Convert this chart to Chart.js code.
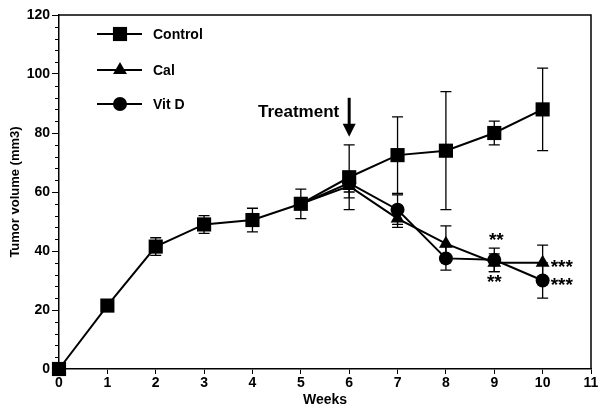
<!DOCTYPE html>
<html>
<head>
<meta charset="utf-8">
<title>Tumor volume</title>
<script src="https://cdn.jsdelivr.net/npm/chart.js"></script>
<style>
    html, body { margin: 0; padding: 0; background: #fff; }
    #wrap { width: 601px; height: 417px; }
</style>
</head>
<body>
<div id="wrap"><canvas id="tumor-chart" width="601" height="417"></canvas></div>
<script>
// values
var weeks = [0, 1, 2, 3, 4, 5, 6, 7, 8, 9, 10];
var controlValues = [0, 21.5, 41.5, 49, 50.5, 56, 65, 72.5, 74, 80, 88];
var controlErrors = [0, 0, 3, 3, 4, 5, 11, 13, 20, 4, 14];
var calValues = [null, null, null, null, null, 56, 62, 51, 42.5, 36, 36];
var calErrors = [0, 0, 0, 0, 0, 0, 4, 3, 6, 3, 6];
var vitDValues = [null, null, null, null, null, 56, 63, 54, 37.5, 37, 30];
var vitDErrors = [0, 0, 0, 0, 0, 0, 3, 5, 4, 4, 6];
var seriesNames = ['Control', 'Cal', 'Vit D'];
var yTicks = { min: 0, max: 120, step: 20, minorStep: 4 };
var xTicks = { min: 0, max: 11, step: 1 };

// significance marks: series index, week, text
var marks = [
    { series: 2, week: 9, text: '**', side: 'above' },
    { series: 1, week: 9, text: '**', side: 'below' },
    { series: 1, week: 10, text: '***', side: 'right' },
    { series: 2, week: 10, text: '***', side: 'right' }
];
var treatmentWeek = 6;

var FONT = '"Liberation Sans", Arial, Helvetica, sans-serif';

function toPoints( values ) {
    var pts = [];
    for ( var i = 0; i < weeks.length; i++ ) {
        pts.push( { x: weeks[i], y: values[i] } );
    }
    return pts;
}

var seriesErrors = [controlErrors, calErrors, vitDErrors];
var seriesValues = [controlValues, calValues, vitDValues];

var styles = [
    { pointStyle: 'rect', radius: 10 },
    { pointStyle: 'triangle', radius: 8 },
    { pointStyle: 'circle', radius: 7 }
];

function makeDataset( i ) {
    return {
        label: seriesNames[i],
        data: toPoints( seriesValues[i] ),
        borderColor: '#000',
        backgroundColor: '#000',
        borderWidth: 2,
        pointStyle: styles[i].pointStyle,
        pointRadius: function( ctx ) {
            // the treated groups share week 5 with control
            if ( i > 0 && ctx.dataIndex < 6 ) return 0;
            return styles[i].radius;
        },
        pointBorderWidth: 0,
        pointHoverRadius: styles[i].radius,
        tension: 0,
        clip: false
    };
}

// error bars, drawn under the markers
var errorBars = {
    id: 'errorBars',
    beforeDatasetsDraw: function( chart ) {
        var ctx = chart.ctx;
        var xs = chart.scales.x, ys = chart.scales.y;
        ctx.save();
        ctx.strokeStyle = '#000';
        ctx.lineWidth = 1.3;
        for ( var s = 0; s < seriesValues.length; s++ ) {
            for ( var i = 0; i < weeks.length; i++ ) {
                var v = seriesValues[s][i], e = seriesErrors[s][i];
                if ( v === null || !e ) continue;
                var px = xs.getPixelForValue( weeks[i] );
                var top = ys.getPixelForValue( v + e );
                var bot = ys.getPixelForValue( v - e );
                ctx.beginPath();
                ctx.moveTo( px, top ); ctx.lineTo( px, bot );
                ctx.moveTo( px - 5.5, top ); ctx.lineTo( px + 5.5, top );
                ctx.moveTo( px - 5.5, bot ); ctx.lineTo( px + 5.5, bot );
                ctx.stroke();
            }
        }
        ctx.restore();
    }
};

// box, minor ticks, legend, treatment arrow, asterisks
var extras = {
    id: 'extras',
    afterDraw: function( chart ) {
        var ctx = chart.ctx;
        var area = chart.chartArea;
        var xs = chart.scales.x, ys = chart.scales.y;
        ctx.save();

        // top and right frame
        ctx.strokeStyle = '#000';
        ctx.lineWidth = 1.5;
        ctx.beginPath();
        ctx.moveTo( area.left, area.top );
        ctx.lineTo( area.right, area.top );
        ctx.lineTo( area.right, area.bottom );
        ctx.stroke();

        // minor y ticks
        ctx.lineWidth = 1;
        ctx.beginPath();
        for ( var v = yTicks.min; v <= yTicks.max; v += yTicks.minorStep ) {
            if ( v % yTicks.step === 0 ) continue;
            var py = Math.round( ys.getPixelForValue( v ) ) + 0.5;
            ctx.moveTo( area.left - 4, py );
            ctx.lineTo( area.left, py );
        }
        ctx.stroke();

        // legend
        ctx.fillStyle = '#000';
        ctx.font = 'bold 14px ' + FONT;
        ctx.textBaseline = 'middle';
        ctx.textAlign = 'left';
        var rows = [area.top + 19, area.top + 55, area.top + 89];
        for ( var i = 0; i < seriesNames.length; i++ ) {
            ctx.lineWidth = 2;
            ctx.beginPath();
            ctx.moveTo( area.left + 38, rows[i] );
            ctx.lineTo( area.left + 83, rows[i] );
            ctx.stroke();
            Chart.helpers.drawPoint( ctx, {
                pointStyle: styles[i].pointStyle,
                radius: styles[i].radius,
                rotation: 0,
                borderWidth: 0
            }, area.left + 61, rows[i] );
            ctx.fillText( seriesNames[i], area.left + 94, rows[i] + 1 );
        }

        // treatment arrow
        var ax = xs.getPixelForValue( treatmentWeek );
        var ay = ys.getPixelForValue( controlValues[treatmentWeek] + controlErrors[treatmentWeek] );
        var tip = ay - 8, tail = tip - 39;
        ctx.lineWidth = 3;
        ctx.beginPath();
        ctx.moveTo( ax, tail );
        ctx.lineTo( ax, tip - 10 );
        ctx.stroke();
        ctx.beginPath();
        ctx.moveTo( ax - 6.5, tip - 13 );
        ctx.lineTo( ax + 6.5, tip - 13 );
        ctx.lineTo( ax, tip );
        ctx.closePath();
        ctx.fill();
        ctx.font = 'bold 17px ' + FONT;
        ctx.textAlign = 'right';
        ctx.fillText( 'Treatment', ax - 10, tail + 15 );

        // significance asterisks
        ctx.font = 'bold 19px ' + FONT;
        for ( var m = 0; m < marks.length; m++ ) {
            var mk = marks[m];
            var mx = xs.getPixelForValue( mk.week );
            var my = ys.getPixelForValue( seriesValues[mk.series][mk.week] );
            if ( mk.side === 'above' ) {
                ctx.textAlign = 'center';
                ctx.fillText( mk.text, mx + 2, my - 19 );
            } else if ( mk.side === 'below' ) {
                ctx.textAlign = 'center';
                ctx.fillText( mk.text, mx, my + 20 );
            } else {
                ctx.textAlign = 'left';
                ctx.fillText( mk.text, mx + 8, my + 5 );
            }
        }

        ctx.restore();
    }
};

var canvas = document.getElementById( 'tumor-chart' );

var chart = new Chart( canvas, {
    type: 'line',
    data: {
        datasets: [makeDataset( 0 ), makeDataset( 1 ), makeDataset( 2 )]
    },
    options: {
        responsive: false,
        animation: false,
        events: [],
        layout: {
            padding: { left: 0, top: 15, right: 9, bottom: 0 }
        },
        plugins: {
            legend: { display: false },
            tooltip: { enabled: false }
        },
        scales: {
            x: {
                type: 'linear',
                min: xTicks.min,
                max: xTicks.max,
                afterFit: function( scale ) { scale.height = 48; },
                ticks: {
                    stepSize: xTicks.step,
                    color: '#000',
                    padding: 1,
                    maxRotation: 0,
                    font: { family: FONT, size: 14, weight: 'bold' }
                },
                grid: {
                    drawOnChartArea: false,
                    tickLength: 5,
                    tickColor: '#000',
                    tickWidth: 1
                },
                border: { color: '#000', width: 1.5 },
                title: {
                    display: true,
                    text: 'Weeks',
                    color: '#000',
                    padding: { top: 0, bottom: 8 },
                    font: { family: FONT, size: 14, weight: 'bold' }
                }
            },
            y: {
                type: 'linear',
                min: yTicks.min,
                max: yTicks.max,
                afterFit: function( scale ) { scale.width = 59; },
                ticks: {
                    stepSize: yTicks.step,
                    color: '#000',
                    padding: 2,
                    font: { family: FONT, size: 14, weight: 'bold' }
                },
                grid: {
                    drawOnChartArea: false,
                    tickLength: 7,
                    tickColor: '#000',
                    tickWidth: 1
                },
                border: { color: '#000', width: 1.5 },
                title: {
                    display: true,
                    text: 'Tumor volume (mm3)',
                    color: '#000',
                    padding: { top: 8, bottom: 0 },
                    font: { family: FONT, size: 13, weight: 'bold' }
                }
            }
        }
    },
    plugins: [errorBars, extras]
} );
</script>
</body>
</html>
